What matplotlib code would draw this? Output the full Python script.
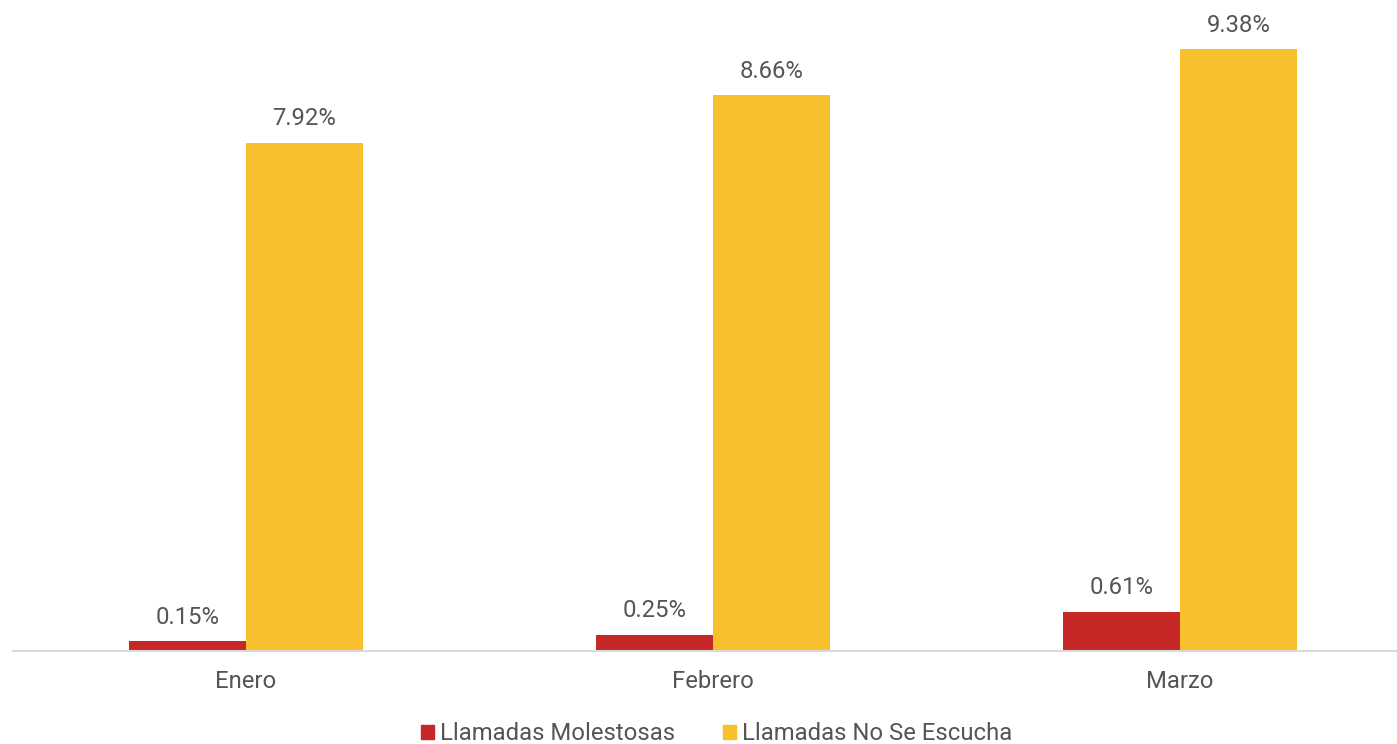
import matplotlib
matplotlib.use("Agg")
import matplotlib.pyplot as plt
import numpy as np
from matplotlib.patches import Patch

categories = ["Enero", "Febrero", "Marzo"]
series_names = ["Llamadas Molestosas", "Llamadas No Se Escucha"]
molestosas = [0.15, 0.25, 0.61]
no_escucha = [7.92, 8.66, 9.38]
colors = ["#C62828", "#F9C02E"]
text_color = "#555555"

plt.rcParams['font.family'] = ['Roboto', 'DejaVu Sans']
FS = 17.2

W, H = 1397, 744
fig = plt.figure(figsize=(W / 100, H / 100), dpi=100)
left_px, base_px = 12.5, 651
ax = fig.add_axes([left_px / W, (H - base_px) / H, (W - left_px) / W, base_px / H])

x = np.arange(len(categories))
bw = 0.25
b1 = ax.bar(x - bw / 2, molestosas, bw, color=colors[0], label=series_names[0])
b2 = ax.bar(x + bw / 2, no_escucha, bw, color=colors[1], label=series_names[1])

for bars, vals in ((b1, molestosas), (b2, no_escucha)):
    for b, v in zip(bars, vals):
        ax.annotate(f"{v:.2f}%", (b.get_x() + b.get_width() / 2, b.get_height()),
                    xytext=(0, 9), textcoords="offset points", ha="center", va="bottom",
                    fontsize=FS, color=text_color)

ax.set_xlim(-0.5, 2.5 - 16.5 / 467)
ax.set_ylim(0, base_px / (602 / 9.38))
ax.set_xticks(x)
ax.set_xticklabels(categories, fontsize=FS, color=text_color)
ax.tick_params(axis='x', length=0, pad=14)
ax.set_yticks([])
for s in ["top", "right", "left"]:
    ax.spines[s].set_visible(False)
ax.spines["bottom"].set_color("#D9D9D9")
ax.spines["bottom"].set_linewidth(1.5)

handles = [Patch(color=c) for c in colors]
fig.legend(handles, series_names, loc="center", bbox_to_anchor=(717 / W, 1 - 734 / H),
           ncol=2, frameon=False, fontsize=FS, labelcolor=text_color,
           handlelength=0.55, handleheight=0.55, handletextpad=0.25, columnspacing=2.0)

fig.savefig("out.png", dpi=100)
